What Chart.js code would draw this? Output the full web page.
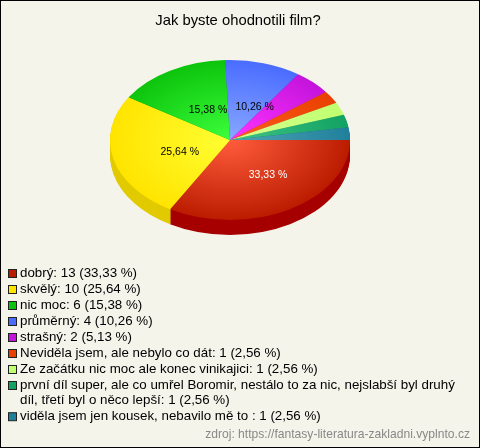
<!DOCTYPE html>
<html>
<head>
<meta charset="utf-8">
<title>Jak byste ohodnotili film?</title>
<script src="https://cdn.jsdelivr.net/npm/chart.js@4"></script>
<style>
  html, body { margin: 0; padding: 0; background: #f4f4eb; }
  #wrap { position: relative; width: 480px; height: 448px; }
</style>
</head>
<body>
<div id="wrap"><canvas id="myChart" width="480" height="448"></canvas></div>
<script>
const titleText = 'Jak byste ohodnotili film?'
const sourceText = 'zdroj: https://fantasy-literatura-zakladni.vyplnto.cz'
const categories = [
  'dobrý',
  'skvělý',
  'nic moc',
  'průměrný',
  'strašný',
  'Neviděla jsem, ale nebylo co dát',
  'Ze začátku nic moc ale konec vinikajici',
  'první díl super, ale co umřel Boromir, nestálo to za nic, nejslabší byl druhý díl, třetí byl o něco lepší',
  'viděla jsem jen kousek, nebavilo mě to '
]
const votes = [13, 10, 6, 4, 2, 1, 1, 1, 1]
const percents = ['33,33', '25,64', '15,38', '10,26', '5,13', '2,56', '2,56', '2,56', '2,56']
const baseColors = ['#bb1c00', '#ffe400', '#0cc40c', '#4a6cff', '#c414dc', '#e84000', '#c0ff70', '#12a262', '#20809c']
const lightColors = ['#ff5c3c', '#ffff33', '#3cff3c', '#88a8ff', '#ff33ff', '#ff5c20', '#d8ff90', '#40c488', '#50a4b4']
const sideColors = ['#a60000', '#e2ca00', '#0aa00a', '#3a55cc', '#9a10b0', '#b83000', '#98cc58', '#0e8250', '#18667c']
const labelColors = ['#ffffff', '#000000', '#000000', '#000000']

const FLAT = 2 / 3
const DEPTH = 15
const ctx = document.getElementById('myChart')

const flatten = (c, cy) => {
  c.translate(0, cy)
  c.scale(1, FLAT)
  c.translate(0, -cy)
}

const pie3d = {
  id: 'pie3d',
  beforeDraw(chart) {
    const c = chart.ctx
    c.save()
    c.fillStyle = '#f4f4eb'
    c.fillRect(0, 0, 480, 448)
    c.strokeStyle = '#000000'
    c.lineWidth = 1
    c.strokeRect(0.5, 0.5, 479, 447)
    c.fillStyle = '#000000'
    c.font = '14.8px "Liberation Sans"'
    c.textAlign = 'center'
    c.textBaseline = 'alphabetic'
    c.fillText(titleText, 238, 25)
    c.restore()
  },
  beforeDatasetDraw(chart) {
    const c = chart.ctx
    const arcs = chart.getDatasetMeta(0).data
    const cy = arcs[0].y
    for (let d = DEPTH; d >= 1; d--) {
      c.save()
      c.translate(0, d)
      flatten(c, cy)
      arcs.forEach((arc, i) => {
        const opts = arc.options
        arc.options = Object.assign({}, opts, { backgroundColor: sideColors[i] })
        arc.draw(c)
        arc.options = opts
      })
      c.restore()
    }
    c.save()
    flatten(c, cy)
  },
  afterDatasetDraw(chart) {
    chart.ctx.restore()
  },
  afterDatasetsDraw(chart) {
    const c = chart.ctx
    const arcs = chart.getDatasetMeta(0).data
    c.save()
    c.font = '10.5px "Liberation Sans"'
    c.textAlign = 'center'
    c.textBaseline = 'middle'
    labelColors.forEach((col, i) => {
      const arc = arcs[i]
      const mid = (arc.startAngle + arc.endAngle) / 2
      const r = arc.outerRadius * 0.5
      c.fillStyle = col
      c.fillText(percents[i] + ' %', arc.x + Math.cos(mid) * r + 8, arc.y + Math.sin(mid) * r * 0.94 * FLAT + 3)
    })
    c.restore()

    // legenda
    c.save()
    c.font = '13.33px "Liberation Sans"'
    c.textBaseline = 'middle'
    let y = 273.5
    categories.forEach((name, i) => {
      c.fillStyle = baseColors[i]
      c.strokeStyle = '#222222'
      c.fillRect(8.5, y - 4, 8, 8)
      c.strokeRect(8.5, y - 4, 8, 8)
      c.fillStyle = '#000000'
      const words = (name + ': ' + votes[i] + ' (' + percents[i] + ' %)').split(' ')
      let line = ''
      words.forEach(w => {
        const next = line ? line + ' ' + w : w
        if (c.measureText(next).width > 450) {
          c.fillText(line, 20, y)
          y += 15.2
          line = w
        } else {
          line = next
        }
      })
      c.fillText(line, 20, y)
      y += 16
    })
    c.fillStyle = '#888888'
    c.font = '12.1px "Liberation Sans"'
    c.textAlign = 'right'
    c.fillText(sourceText, 470, 435)
    c.restore()
  }
}

new Chart(ctx, {
  type: 'pie',
  data: {
    labels: categories,
    datasets: [{
      data: votes,
      borderWidth: 0,
      hoverOffset: 0,
      backgroundColor: context => {
        const a = context.chart.chartArea
        if (!a) return baseColors[context.dataIndex]
        const cx = (a.left + a.right) / 2
        const cy = (a.top + a.bottom) / 2
        const g = context.chart.ctx.createRadialGradient(cx, cy, 0, cx, cy, a.width / 2)
        g.addColorStop(0, lightColors[context.dataIndex])
        g.addColorStop(1, baseColors[context.dataIndex])
        return g
      }
    }]
  },
  options: {
    responsive: false,
    animation: false,
    rotation: 90,
    layout: { padding: { left: 110, right: 130, top: 20, bottom: 188 } },
    plugins: {
      legend: { display: false },
      title: { display: false },
      tooltip: { enabled: false }
    }
  },
  plugins: [pie3d]
})
</script>
</body>
</html>
